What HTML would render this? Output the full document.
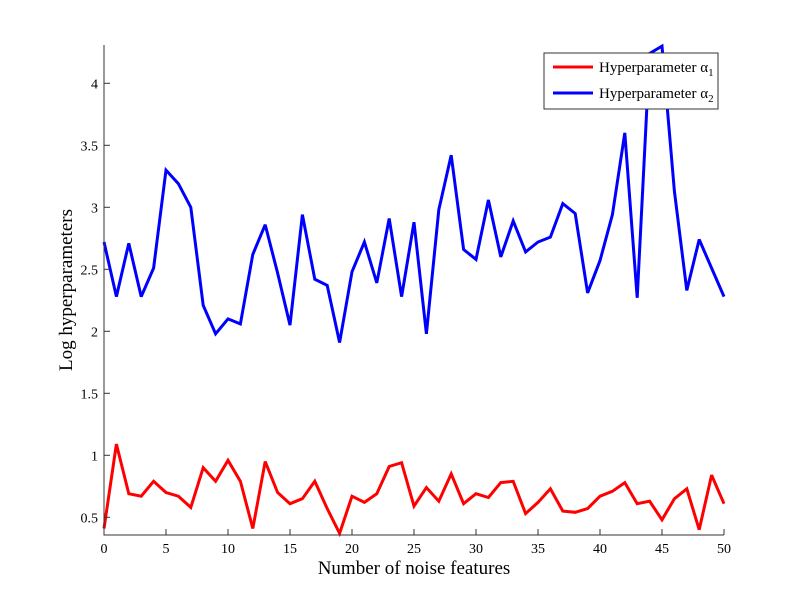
<!DOCTYPE html>
<html><head><meta charset="utf-8"><style>
body{margin:0;background:#fff;}
svg{display:block;font-family:"Liberation Serif",serif;}
</style></head><body>
<svg id="chart" width="800" height="600" xmlns="http://www.w3.org/2000/svg">
<rect width="800" height="600" fill="#fff"/>
<g id="plot"></g>
<g id="axes"></g>
<text x="414" y="574" font-size="19" text-anchor="middle">Number of noise features</text>
<text x="0" y="0" font-size="19" text-anchor="middle" transform="translate(72,290) rotate(-90)">Log hyperparameters</text>
<g>
<rect x="544" y="53" width="174" height="56" fill="#fff" stroke="#333" stroke-width="1"/>
<line x1="553" y1="67" x2="593" y2="67" stroke="#f00" stroke-width="3"/>
<text x="599" y="72" font-size="15">Hyperparameter α<tspan font-size="11" dy="4">1</tspan></text>
<line x1="553" y1="93" x2="593" y2="93" stroke="#00f" stroke-width="3"/>
<text x="599" y="98" font-size="15">Hyperparameter α<tspan font-size="11" dy="4">2</tspan></text>
</g>
</svg>
<script>
const alpha1 = [0.41,1.09,0.69,0.67,0.79,0.70,0.67,0.58,0.90,0.79,0.96,0.79,0.41,0.95,0.70,0.61,0.65,0.79,0.57,0.37,0.67,0.62,0.69,0.91,0.94,0.59,0.74,0.63,0.85,0.61,0.69,0.66,0.78,0.79,0.53,0.62,0.73,0.55,0.54,0.57,0.67,0.71,0.78,0.61,0.63,0.48,0.65,0.73,0.40,0.84,0.61];
const alpha2 = [2.72,2.28,2.71,2.28,2.51,3.30,3.19,3.00,2.21,1.98,2.10,2.06,2.62,2.86,2.47,2.05,2.94,2.42,2.37,1.91,2.48,2.72,2.39,2.91,2.28,2.88,1.98,2.98,3.42,2.66,2.58,3.06,2.60,2.89,2.64,2.72,2.76,3.03,2.95,2.31,2.57,2.94,3.60,2.27,4.24,4.30,3.13,2.33,2.74,2.51,2.28];
const xTicks = [0,5,10,15,20,25,30,35,40,45,50];
const yTicks = [0.5,1,1.5,2,2.5,3,3.5,4];
const yTickLabels = ["0.5","1","1.5","2","2.5","3","3.5","4"];

const L=104,R=724,T=45,B=535;
const xMin=0,xMax=50;
function xs(v){return L+(v-xMin)/(xMax-xMin)*(R-L);}
function ys(v){return 455.3-(v-1)*124;}
const NS="http://www.w3.org/2000/svg";
const plot=document.getElementById('plot');
const axes=document.getElementById('axes');
function mk(tag,attrs){const e=document.createElementNS(NS,tag);for(const k in attrs)e.setAttribute(k,attrs[k]);return e;}

function drawSeries(vals,color,name){
  const pts=vals.map((v,i)=>xs(i).toFixed(1)+','+ys(v).toFixed(1)).join(' ');
  const pl=mk('polyline',{points:pts,fill:'none',stroke:color,'stroke-width':3,'stroke-linejoin':'miter','stroke-miterlimit':3});
  
  
  plot.appendChild(pl);
}
drawSeries(alpha1,'#ff0000','series-alpha1');
drawSeries(alpha2,'#0000ff','series-alpha2');

const ax=mk('path',{d:`M${L},${T}V${B}H${R}`,fill:'none',stroke:'#333','stroke-width':1});


axes.appendChild(ax);

xTicks.forEach(t=>{
  const x=xs(t);
  const tk=mk('line',{x1:x,y1:B,x2:x,y2:B-6,stroke:'#333','stroke-width':1});
  
  
  axes.appendChild(tk);
  const lb=mk('text',{x:x,y:B+18,'font-size':14,'text-anchor':'middle'});
  lb.textContent=t;
  
  
  axes.appendChild(lb);
});
yTicks.forEach((t,i)=>{
  const y=ys(t);
  const tk=mk('line',{x1:L,y1:y,x2:L+6,y2:y,stroke:'#333','stroke-width':1});
  
  
  axes.appendChild(tk);
  const lb=mk('text',{x:L-6,y:y+5,'font-size':14,'text-anchor':'end'});
  lb.textContent=yTickLabels[i];
  
  
  axes.appendChild(lb);
});
</script>
</body></html>
